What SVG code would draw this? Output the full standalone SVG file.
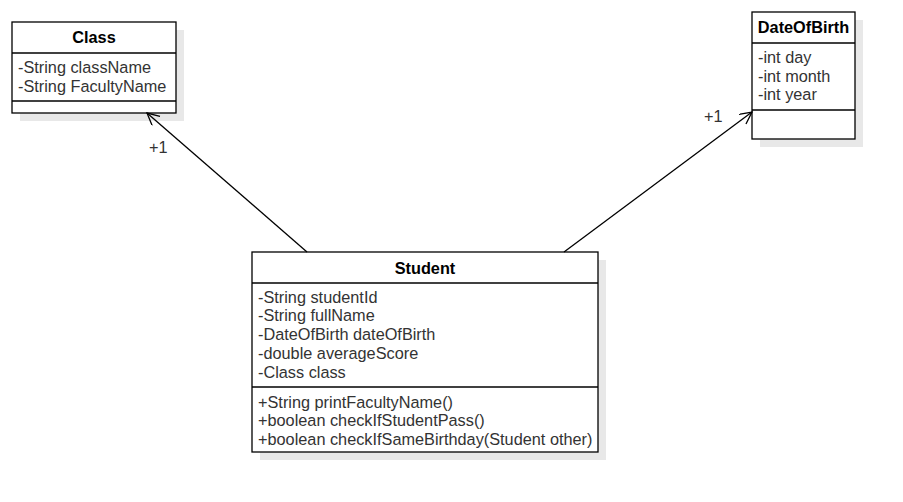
<svg xmlns="http://www.w3.org/2000/svg" width="903" height="502" viewBox="0 0 903 502">
<style>
.shadow{fill:#e8e8e8;stroke:none}
.box{fill:#fff;stroke:#000;stroke-width:1.3}
.div{stroke:#000;stroke-width:1.3}
.t{font-family:"Liberation Sans",Arial,sans-serif;font-size:16.3px;fill:#333}
.h{font-family:"Liberation Sans",Arial,sans-serif;font-size:16.3px;font-weight:bold;fill:#000;text-anchor:middle}
.edge{stroke:#000;stroke-width:1.3;fill:none}
.lbl{font-family:"Liberation Sans",Arial,sans-serif;font-size:16.3px;fill:#333}
</style>
<defs>
<marker id="open" markerWidth="16" markerHeight="16" refX="13" refY="6" orient="auto" markerUnits="userSpaceOnUse">
<path d="M1,0 L13,6 L1,12" fill="none" stroke="#000" stroke-width="1.3"/>
</marker>
</defs>
<rect width="903" height="502" fill="#fff"/>
<g id="Class">
<rect class="shadow" x="20" y="30" width="164" height="91"/>
<rect class="box" x="12" y="22" width="164" height="91"/>
<line class="div" x1="12" y1="53" x2="176" y2="53"/>
<line class="div" x1="12" y1="101" x2="176" y2="101"/>
<text class="h" x="94" y="43">Class</text>
<text class="t" x="18" y="73">-String className</text>
<text class="t" x="18" y="92">-String FacultyName</text>
</g>
<g id="DateOfBirth">
<rect class="shadow" x="760" y="20" width="103" height="127"/>
<rect class="box" x="752" y="12" width="103" height="127"/>
<line class="div" x1="752" y1="43" x2="855" y2="43"/>
<line class="div" x1="752" y1="110" x2="855" y2="110"/>
<text class="h" x="803.5" y="33">DateOfBirth</text>
<text class="t" x="758" y="63">-int day</text>
<text class="t" x="758" y="82">-int month</text>
<text class="t" x="758" y="100">-int year</text>
</g>
<g id="Student">
<rect class="shadow" x="260" y="260" width="346" height="200"/>
<rect class="box" x="252" y="252" width="346" height="200"/>
<line class="div" x1="252" y1="283" x2="598" y2="283"/>
<line class="div" x1="252" y1="387" x2="598" y2="387"/>
<text class="h" x="425" y="274">Student</text>
<text class="t" x="258" y="303">-String studentId</text>
<text class="t" x="258" y="321">-String fullName</text>
<text class="t" x="258" y="340">-DateOfBirth dateOfBirth</text>
<text class="t" x="258" y="359">-double averageScore</text>
<text class="t" x="258" y="378">-Class class</text>
<text class="t" x="258" y="408">+String printFacultyName()</text>
<text class="t" x="258" y="426">+boolean checkIfStudentPass()</text>
<text class="t" x="258" y="445">+boolean checkIfSameBirthday(Student other)</text>
</g>
<g id="connectors">
<line class="edge" x1="307" y1="252" x2="147" y2="113" marker-end="url(#open)"/>
<line class="edge" x1="564" y1="252" x2="752" y2="112" marker-end="url(#open)"/>
<text class="lbl" x="149" y="153">+1</text>
<text class="lbl" x="704" y="122">+1</text>
</g>
</svg>
